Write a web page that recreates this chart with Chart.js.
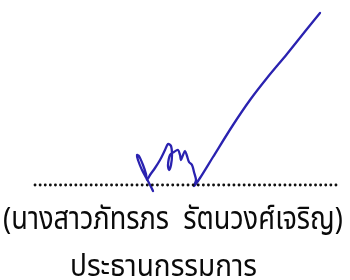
<!DOCTYPE html>
<html>
<head>
<meta charset="utf-8">
<script src="https://cdn.jsdelivr.net/npm/chart.js@4/dist/chart.umd.min.js"></script>
<style>
html,body{margin:0;padding:0;background:#fff;}
#wrap{position:relative;width:350px;height:280px;}
</style>
</head>
<body>
<div id="wrap"><canvas id="c" width="350" height="280"></canvas></div>
<script>
// Signature stroke (chart coordinates: x 0..350, y 0..280 top-down)
const signatureX = [153,148,142,138,137,139,143,146,147,150,155,160,165,168,171,172,171,169,168,170,174,178,180,181,183,185,187,189,192,194,196,194,200,213,233,250,267,287,307,320];
const signatureY = [191,181,170,160,155,156,165,174,180,175,168,160,150,144,146,155,165,170,165,155,152,150,155,160,155,151,156,162,165,172,180,186,178,157,125,100,78,54,29,13];
// Dotted signature line ends
const dotLineX = [35, 336];
const dotLineY = [185, 185];
// Text lines
const textLines = ["(นางสาวภัทรภร  รัตนวงศ์เจริญ)", "ประธานกรรมการ"];
const textCenterX = [173, 163.5];
const textBaselineY = [229, 276];
const textWidths = [340, 187];
const textStretchY = [1.15, 1.05];

const sigData = signatureX.map((x, i) => ({x, y: signatureY[i]}));
const dotData = dotLineX.map((x, i) => ({x, y: dotLineY[i]}));

const FONT = '"Noto Sans Thai", "Noto Sans", Tahoma, sans-serif';
const textPlugin = {
  id: 'textLines',
  afterDraw(chart) {
    const ctx = chart.ctx;
    const sx = chart.scales.x, sy = chart.scales.y;
    textLines.forEach((t, i) => {
      ctx.save();
      ctx.fillStyle = '#0a0a0a';
      ctx.textAlign = 'center';
      ctx.textBaseline = 'alphabetic';
      let size = 28;
      ctx.font = size + 'px ' + FONT;
      const w = ctx.measureText(t).width;
      size = size * textWidths[i] / w;
      ctx.font = size.toFixed(2) + 'px ' + FONT;
      const px = sx.getPixelForValue(textCenterX[i]);
      const py = sy.getPixelForValue(textBaselineY[i]);
      ctx.translate(px, py);
      ctx.scale(1, textStretchY[i]);
      ctx.fillText(t, 0, 0);
      ctx.restore();
    });
  }
};

new Chart(document.getElementById('c'), {
  type: 'scatter',
  data: {
    datasets: [
      {
        data: dotData,
        showLine: true,
        borderColor: '#111',
        borderWidth: 2.8,
        borderDash: [0.1, 5],
        borderCapStyle: 'round',
        pointRadius: 0
      },
      {
        data: sigData,
        showLine: true,
        borderColor: '#2a22b0',
        borderWidth: 2.3,
        tension: 0.3,
        borderCapStyle: 'round',
        borderJoinStyle: 'round',
        pointRadius: 0
      }
    ]
  },
  options: {
    responsive: false,
    animation: false,
    layout: {padding: 0},
    plugins: {legend: {display: false}, tooltip: {enabled: false}, title: {display: false}},
    scales: {
      x: {type: 'linear', min: 0, max: 350, display: false},
      y: {type: 'linear', min: 0, max: 280, reverse: true, display: false}
    }
  },
  plugins: [textPlugin]
});
</script>
</body>
</html>
